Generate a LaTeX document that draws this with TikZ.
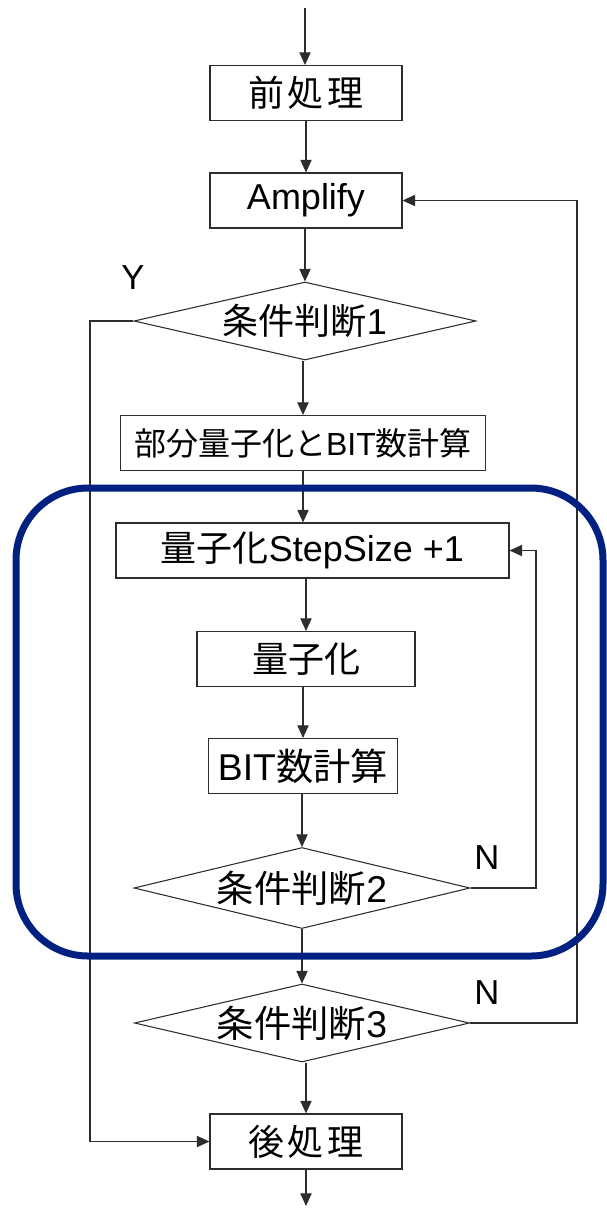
\documentclass[tikz,border=0pt]{standalone}
\usepackage{fontspec}
\setmainfont{Liberation Sans}
\newfontfamily\jp{Noto Sans CJK JP}
\usetikzlibrary{arrows.meta,shapes.geometric}
\definecolor{navy}{RGB}{0,33,128}
\definecolor{ln}{RGB}{45,45,45}
\begin{document}
\begin{tikzpicture}[x=0.75pt,y=-0.75pt,
  box/.style={draw=ln, line width=0.8pt, rectangle, inner sep=0pt, minimum height=41.25pt, font=\fontsize{27}{30}\selectfont},
  dia/.style={draw=ln, line width=0.8pt, diamond, aspect=4.2, inner sep=0pt, font=\fontsize{27}{30}\selectfont},
  arr/.style={draw=ln, line width=0.8pt, -{Triangle[length=9.5pt,width=8.5pt]}},
  lbl/.style={font=\fontsize{26}{30}\selectfont, inner sep=0pt}]
\useasboundingbox (0,0) rectangle (607,1208);

\coordinate (top) at (305,8);
\coordinate (bot) at (306,1206);
\coordinate (yx) at (90,0);
\coordinate (n2x) at (536,0);
\coordinate (n3x) at (577,0);

\node[box, minimum width=144pt] (pre) at (306,93) {\jp 前\hspace{3pt}処\hspace{3pt}理};
\node[box, minimum width=144pt] (amp) at (306,200.5) {Amplify};
\node[dia, minimum width=256.5pt, minimum height=58.5pt] (d1) at (305,321) {{\jp 条件判断}1};
\node[box, minimum width=273.75pt, font=\fontsize{24}{28}\selectfont] (part) at (303,443) {{\jp 部分量子化と}BIT{\jp 数計算}};
\node[box, minimum width=294.75pt] (step) at (312.5,550.5) {{\jp 量子化}StepSize +1};
\node[box, minimum width=163.5pt] (quant) at (306,659) {\jp 量子化};
\node[box, minimum width=141.75pt, font=\fontsize{28}{30}\selectfont] (bit) at (303,766) {BIT{\jp 数計算}};
\node[dia, minimum width=252pt, minimum height=60.75pt, font=\fontsize{28}{30}\selectfont] (d2) at (302,888) {{\jp 条件判断}2};
\node[dia, minimum width=251.25pt, minimum height=58.5pt, font=\fontsize{28}{30}\selectfont] (d3) at (302,1023) {{\jp 条件判断}3};
\node[box, minimum width=144pt] (post) at (306,1141.5) {\jp 後\hspace{3pt}処\hspace{3pt}理};

\node[lbl] (ly) at (133,278) {Y};
\node[lbl] (ln2) at (487,858) {N};
\node[lbl] (ln3) at (487,993) {N};

\draw[arr] (top) -- (top |- pre.north);
\draw[arr] (amp.north |- pre.south) -- (amp.north);
\draw[arr] (d1.north |- amp.south) -- (d1.north);
\draw[arr] (part.north |- d1.south) -- (part.north);
\draw[arr] (part.south) -- (part.south |- step.north);
\draw[arr] (quant.north |- step.south) -- (quant.north);
\draw[arr] (bit.north |- quant.south) -- (bit.north);
\draw[arr] (d2.north |- bit.south) -- (d2.north);
\draw[arr] (d2.south) -- (d3.north);
\draw[arr] (post.north |- d3.south) -- (post.north);
\draw[arr] (post.south) -- (post.south |- bot);

\draw[arr] (d1.west) -- (d1.west -| yx) |- (post.west);
\draw[arr] (d2.east) -- (d2.east -| n2x) |- (step.east);
\draw[arr] (d3.east) -- (d3.east -| n3x) |- (amp.east);

\draw[navy, line width=5.25pt, rounded corners=54pt] (16,488) rectangle (603,956);
\end{tikzpicture}
\end{document}
